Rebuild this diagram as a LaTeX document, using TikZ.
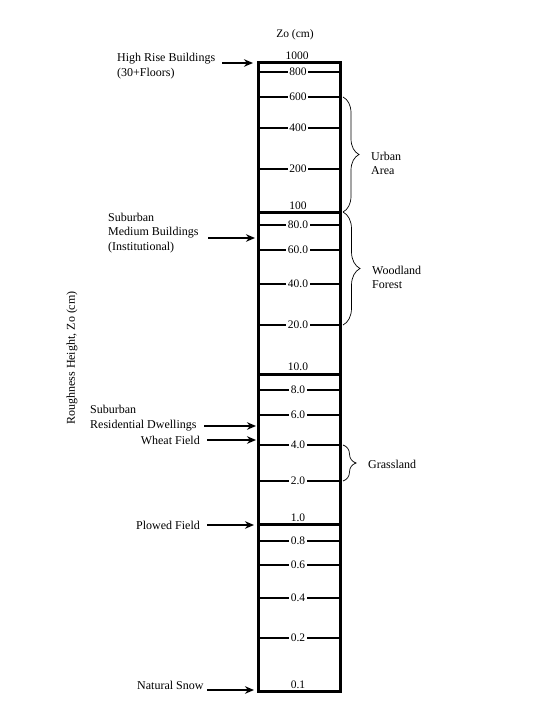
\documentclass[tikz,border=0pt]{standalone}
\usepackage{fontspec}
\setmainfont{Liberation Serif}
\usetikzlibrary{arrows.meta,decorations.pathreplacing}
\begin{document}
\begin{tikzpicture}[x=1pt,y=-1pt,
  lbl/.style={inner sep=0pt,font=\fontsize{12}{14.5}\selectfont,align=left},
  ticklbl/.style={inner sep=1.5pt,fill=white,font=\fontsize{11.5}{13}\selectfont},
  declbl/.style={inner sep=0pt,font=\fontsize{11.5}{13}\selectfont},
  tickline/.style={line width=2pt},
  decline/.style={line width=3pt},
  ptr/.style={line width=1.8pt,-{Stealth[length=9pt,width=7.5pt]}},
  brc/.style={decorate,decoration={brace,amplitude=#1},line width=0.7pt}]
\useasboundingbox (0,0) rectangle (540,720);
% column
\node[declbl] (zo) at (295,35) {Zo (cm)};
\coordinate (ctop) at (258,62);
\coordinate (cbot) at (340,691);
% ticks
\foreach \yy/\tt in {72/800,97/600,128/400,169/200,225/80.0,250/60.0,284/40.0,325/20.0,390/8.0,415/6.0,445/4.0,481/2.0,541/0.8,565/0.6,598/0.4,638/0.2}{
  \draw[tickline] (258,\yy) -- (340,\yy);
  \node[ticklbl] at (298,\yy) {\tt};
}
\foreach \yy in {212,374,524}{\draw[decline] (258,\yy) -- (340,\yy);}
\node[declbl] (d1000) at (297,56) {1000};
\node[declbl] (d100) at (298,206) {100};
\node[declbl] (d10) at (298,367) {10.0};
\node[declbl] (d1) at (298,518) {1.0};
\node[declbl] (d01) at (298,685) {0.1};
\draw[line width=3pt] (ctop) rectangle (cbot);
% axis title
\node[lbl,rotate=90] (axis) at (72,358) {Roughness Height, Zo (cm)};
% left labels
\node[lbl,anchor=west] (high) at (117,66) {High Rise Buildings\\(30+Floors)};
\node[lbl,anchor=west] (medium) at (108,233) {Suburban\\Medium Buildings\\(Institutional)};
\node[lbl,anchor=west] (resid) at (90,418) {Suburban\\Residential Dwellings};
\node[lbl,anchor=east] (wheat) at (200,440) {Wheat Field};
\node[lbl,anchor=west] (plowed) at (136,525) {Plowed Field};
\node[lbl,anchor=west] (snow) at (137,685) {Natural Snow};
% arrows
\coordinate (a1s) at (222,63); \coordinate (a1e) at (253,63);
\coordinate (a2s) at (208,238); \coordinate (a2e) at (255,238);
\coordinate (a3s) at (204,426); \coordinate (a3e) at (256,426);
\coordinate (a4s) at (207,440); \coordinate (a4e) at (256,440);
\coordinate (a5s) at (207,525); \coordinate (a5e) at (254,525);
\coordinate (a6s) at (207,690); \coordinate (a6e) at (254,690);
\draw[ptr] (a1s) -- (a1e);
\draw[ptr] (a2s) -- (a2e);
\draw[ptr] (a3s) -- (a3e);
\draw[ptr] (a4s) -- (a4e);
\draw[ptr] (a5s) -- (a5e);
\draw[ptr] (a6s) -- (a6e);
% braces
\coordinate (b1t) at (343,97); \coordinate (b1b) at (343,212);
\coordinate (b2t) at (343,212); \coordinate (b2b) at (343,325);
\coordinate (b3t) at (343,445); \coordinate (b3b) at (343,481);
\draw[brc=16pt] (b1t) -- (b1b);
\draw[brc=17pt] (b2t) -- (b2b);
\draw[brc=13pt] (b3t) -- (b3b);
\node[lbl,anchor=west] (urban) at (371,163.5) {Urban\\Area};
\node[lbl,anchor=west] (wood) at (372,277.5) {Woodland\\Forest};
\node[lbl,anchor=west] (grass) at (368,464) {Grassland};
\end{tikzpicture}
\end{document}
